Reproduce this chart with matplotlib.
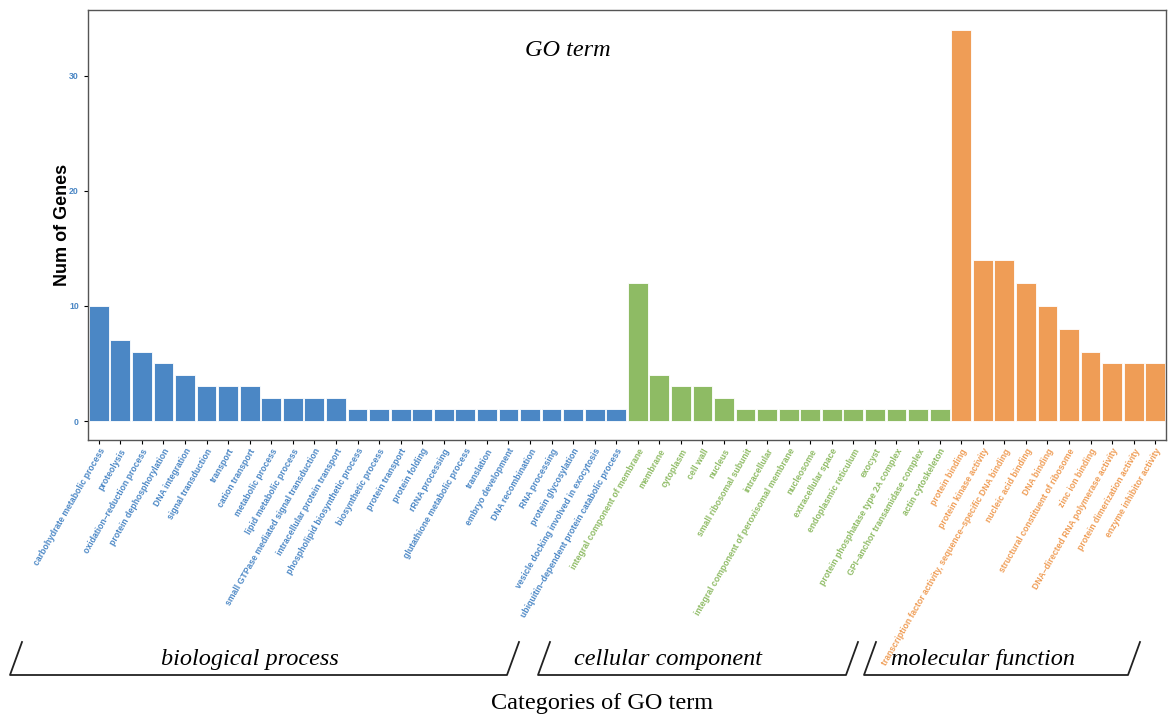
import matplotlib.pyplot as plt
from matplotlib.lines import Line2D
import numpy as np

bp_terms = ["carbohydrate metabolic process", "proteolysis", "oxidation\u2013reduction process",
            "protein dephosphorylation", "DNA integration", "signal transduction", "transport",
            "cation transport", "metabolic process", "lipid metabolic process",
            "small GTPase mediated signal transduction", "intracellular protein transport",
            "phospholipid biosynthetic process", "biosynthetic process", "protein transport",
            "protein folding", "rRNA processing", "glutathione metabolic process", "translation",
            "embryo development", "DNA recombination", "RNA processing", "protein glycosylation",
            "vesicle docking involved in exocytosis",
            "ubiquitin\u2013dependent protein catabolic process"]
bp_counts = [10, 7, 6, 5, 4, 3, 3, 3, 2, 2, 2, 2, 1, 1, 1, 1, 1, 1, 1, 1, 1, 1, 1, 1, 1]

cc_terms = ["integral component of membrane", "membrane", "cytoplasm", "cell wall", "nucleus",
            "small ribosomal subunit", "intracellular",
            "integral component of peroxisomal membrane", "nucleosome", "extracellular space",
            "endoplasmic reticulum", "exocyst", "protein phosphatase type 2A complex",
            "GPI\u2013anchor transamidase complex", "actin cytoskeleton"]
cc_counts = [12, 4, 3, 3, 2, 1, 1, 1, 1, 1, 1, 1, 1, 1, 1]

mf_terms = ["protein binding", "protein kinase activity",
            "transcription factor activity, sequence\u2013specific DNA binding",
            "nucleic acid binding", "DNA binding", "structural constituent of ribosome",
            "zinc ion binding", "DNA\u2013directed RNA polymerase activity",
            "protein dimerization activity", "enzyme inhibitor activity"]
mf_counts = [34, 14, 14, 12, 10, 8, 6, 5, 5, 5]

groups = ["biological process", "cellular component", "molecular function"]
colors = ["#4B87C5", "#8EBB64", "#EF9D56"]

terms = bp_terms + cc_terms + mf_terms
counts = bp_counts + cc_counts + mf_counts
bar_colors = ([colors[0]] * len(bp_terms) + [colors[1]] * len(cc_terms)
              + [colors[2]] * len(mf_terms))

fig = plt.figure(figsize=(11.68, 7.19), dpi=100)
W, H = 1168, 719
ax = fig.add_axes([88 / W, 1 - 440 / H, (1166 - 88) / W, (440 - 10) / H])

x = np.arange(len(terms))
ax.bar(x, counts, width=0.92, color=bar_colors, edgecolor="white", linewidth=0.6)
ax.set_xlim(-0.5, len(terms) - 0.5)
ax.set_ylim(-1.65, 35.7)

ax.set_xticks(x)
ax.set_xticklabels(terms, rotation=60, ha="right", va="top", rotation_mode="anchor",
                   fontsize=6.2, fontweight="bold", family="Liberation Sans")
for lab, c in zip(ax.get_xticklabels(), bar_colors):
    lab.set_color(c)
ax.set_yticks([0, 10, 20, 30])
ax.tick_params(axis="y", labelsize=6.3, labelcolor=colors[0], length=3, width=0.8)
ax.tick_params(axis="x", length=3, width=0.8, pad=2)
for lab in ax.get_yticklabels():
    lab.set_fontweight("bold")
    lab.set_family("Liberation Sans")
for s in ax.spines.values():
    s.set_color("#555555")
    s.set_linewidth(1.0)

ax.set_ylabel("Num of Genes", fontsize=13, fontweight="bold", family="Liberation Sans",
              labelpad=-1)
ax.text(0.445, 0.905, "GO term", transform=ax.transAxes, ha="center", va="center",
        fontsize=17.5, fontstyle="italic", family="Liberation Serif")

# category brackets under the tick labels
brackets = [(10, 507, 250), (538, 846, 668), (864, 1128, 983)]
for (x0, x1, xc), name in zip(brackets, groups):
    xs = np.array([x0 + 12, x0, x1, x1 + 12]) / W
    ys = 1 - np.array([642, 675, 675, 642]) / H
    fig.add_artist(Line2D(xs, ys, color="#222222", linewidth=1.3))
    fig.text(xc / W, 1 - 660 / H, name, ha="center", va="center", fontsize=17.5,
             fontstyle="italic", family="Liberation Serif")

fig.text(602 / W, 1 - 703 / H, "Categories of GO term", ha="center", va="center",
         fontsize=17.5, family="Liberation Serif")

fig.savefig("out.png", dpi=100)
